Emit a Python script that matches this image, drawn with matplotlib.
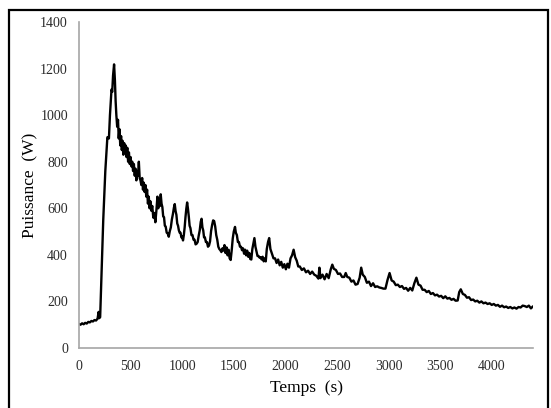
import matplotlib
matplotlib.use("Agg")
import matplotlib.pyplot as plt
from matplotlib.patches import Rectangle

plt.rcParams['font.family'] = ['Liberation Serif', 'DejaVu Serif']

time_s = [0, 15, 30, 45, 60, 75, 90, 105, 120, 135, 150, 165, 180, 190, 195, 205,
          235, 255, 275, 290, 300, 315, 322, 330, 340, 348, 355, 362, 370, 378, 385,
          392, 400, 408, 415, 422, 430, 438, 445, 452, 460, 468, 476, 484, 492, 500,
          508, 516, 524, 532, 540, 548, 556, 564, 572, 580, 588, 596, 604, 612, 620,
          628, 636, 644, 652, 660, 668, 676, 684, 692, 700, 710, 720, 730, 740, 750,
          760, 768, 776, 784, 792, 800, 808, 816, 824, 832, 840, 850, 860, 870, 880,
          890, 900, 910, 920, 928, 936, 944, 952, 960, 968, 976, 984, 992, 1000, 1008,
          1016, 1024, 1032, 1040, 1048, 1056, 1064, 1072, 1080, 1090, 1100, 1110, 1120,
          1130, 1140, 1150, 1160, 1170, 1180, 1188, 1196, 1204, 1212, 1220, 1230, 1240,
          1250, 1260, 1270, 1280, 1290, 1300, 1310, 1320, 1330, 1340, 1350, 1360, 1370,
          1380, 1390, 1400, 1410, 1420, 1430, 1440, 1450, 1460, 1470, 1480, 1490, 1500,
          1512, 1520, 1530, 1540, 1550, 1560, 1570, 1580, 1590, 1600, 1610, 1620, 1630,
          1640, 1650, 1660, 1670, 1680, 1690, 1700, 1710, 1720, 1730, 1740, 1750, 1760,
          1770, 1780, 1790, 1800, 1810, 1820, 1832, 1843, 1855, 1870, 1885, 1900, 1915,
          1930, 1945, 1960, 1975, 1990, 2005, 2020, 2035, 2050, 2065, 2080, 2095, 2110,
          2125, 2140, 2160, 2180, 2200, 2220, 2240, 2260, 2280, 2300, 2320, 2330, 2340,
          2360, 2380, 2400, 2420, 2440, 2455, 2470, 2490, 2510, 2530, 2550, 2570, 2585,
          2600, 2620, 2640, 2660, 2680, 2700, 2720, 2735, 2750, 2770, 2790, 2810, 2830,
          2850, 2870, 2890, 2910, 2930, 2950, 2970, 2990, 3010, 3030, 3050, 3070, 3090,
          3110, 3130, 3150, 3170, 3190, 3210, 3230, 3250, 3270, 3290, 3310, 3330, 3350,
          3370, 3390, 3410, 3430, 3450, 3470, 3490, 3510, 3530, 3550, 3570, 3590, 3610,
          3630, 3650, 3670, 3685, 3700, 3720, 3740, 3760, 3780, 3800, 3820, 3840, 3860,
          3880, 3900, 3920, 3940, 3960, 3980, 4000, 4020, 4040, 4060, 4080, 4100, 4120,
          4140, 4160, 4180, 4200, 4220, 4240, 4260, 4280, 4300, 4320, 4340, 4360, 4380,
          4395]

power_w = [103, 100, 106, 102, 108, 105, 112, 110, 116, 114, 120, 118, 126, 155, 128, 132,
           550, 760, 905, 900, 1000, 1110, 1100, 1170, 1218, 1150, 1060, 1000, 950, 980, 900,
           940, 870, 910, 850, 890, 830, 880, 840, 870, 820, 860, 800, 840, 790, 820,
           780, 800, 760, 790, 740, 770, 720, 760, 740, 800, 730, 720, 700, 730, 680,
           710, 670, 700, 650, 680, 620, 650, 600, 630, 590, 610, 560, 580, 540, 590,
           650, 600, 640, 610, 660, 620, 605, 565, 562, 525, 522, 495, 492, 478, 502,
           518, 552, 575, 603, 618, 588, 572, 535, 525, 505, 495, 495, 475, 478, 462,
           485, 518, 562, 598, 625, 598, 565, 525, 515, 485, 485, 465, 465,
           445, 448, 455, 482, 505, 542, 555, 518, 505, 475, 475, 455, 455,
           435, 440, 458, 502, 528, 548, 545, 522, 485, 465, 435, 425, 420,
           412, 428, 418, 442, 408, 432, 398, 422, 385, 378, 420, 470, 500,
           520, 495, 485, 455, 455, 435, 435, 420, 428, 405, 422, 398, 418,
           392, 408, 382, 380, 425, 448, 472, 435, 415, 395, 395, 388, 390,
           380, 392, 372, 385, 372, 425, 455, 472, 425, 405, 385, 385, 365,
           380, 355, 370, 345, 360, 338, 362, 345, 385, 398, 422, 390, 375,
           350, 350, 335, 342, 325, 332, 318, 328, 315, 310, 298, 345, 300,
           315, 295, 318, 300, 338, 358, 340, 335, 318, 320, 305, 305, 322,
           305, 302, 285, 290, 272, 275, 302, 345, 315, 305, 280, 285, 266,
           278, 262, 265, 260, 258, 255, 255, 292, 322, 290, 285, 270, 272,
           262, 266, 254, 258, 246, 258, 247, 278, 302, 272, 268, 250, 250,
           240, 245, 232, 236, 226, 229, 221, 224, 214, 222, 212, 215, 207,
           211, 203, 204, 240, 252, 232, 228, 216, 218, 206, 208, 200, 203,
           195, 200, 192, 195, 189, 192, 185, 189, 182, 185, 177, 182, 175,
           178, 172, 176, 170, 174, 169, 176, 174, 182, 180, 176, 182, 170,
           177]

x_ticks = [0, 500, 1000, 1500, 2000, 2500, 3000, 3500, 4000]
y_ticks = [0, 200, 400, 600, 800, 1000, 1200, 1400]

W, H = 551, 408
fig = plt.figure(figsize=(W / 100, H / 100), dpi=100)
ax = fig.add_axes([79 / W, 1 - 348 / H, (533 - 79) / W, (348 - 22) / H])

ax.plot(time_s, power_w, color='black', lw=1.7)

ax.set_xlim(0, 4400)
ax.set_ylim(0, 1400)
ax.set_xticks(x_ticks)
ax.set_yticks(y_ticks)
ax.tick_params(length=0, labelsize=10, colors='#2b2b2b')
ax.tick_params(axis='x', pad=9)
ax.tick_params(axis='y', pad=8)
for s in ['top', 'right']:
    ax.spines[s].set_visible(False)
for s in ['left', 'bottom']:
    ax.spines[s].set_color('#a6a6a6')
    ax.spines[s].set_linewidth(1.2)

ax.set_xlabel('Temps  (s)', fontsize=12.5, labelpad=5)
ax.set_ylabel('Puissance  (W)', fontsize=12.5, labelpad=1)

fig.patches.append(Rectangle((9 / W, -0.1), (548 - 9) / W, 1.1 - 10 / H,
                             transform=fig.transFigure, fill=False,
                             edgecolor='black', lw=1.6))

fig.savefig('out.png', dpi=100)
